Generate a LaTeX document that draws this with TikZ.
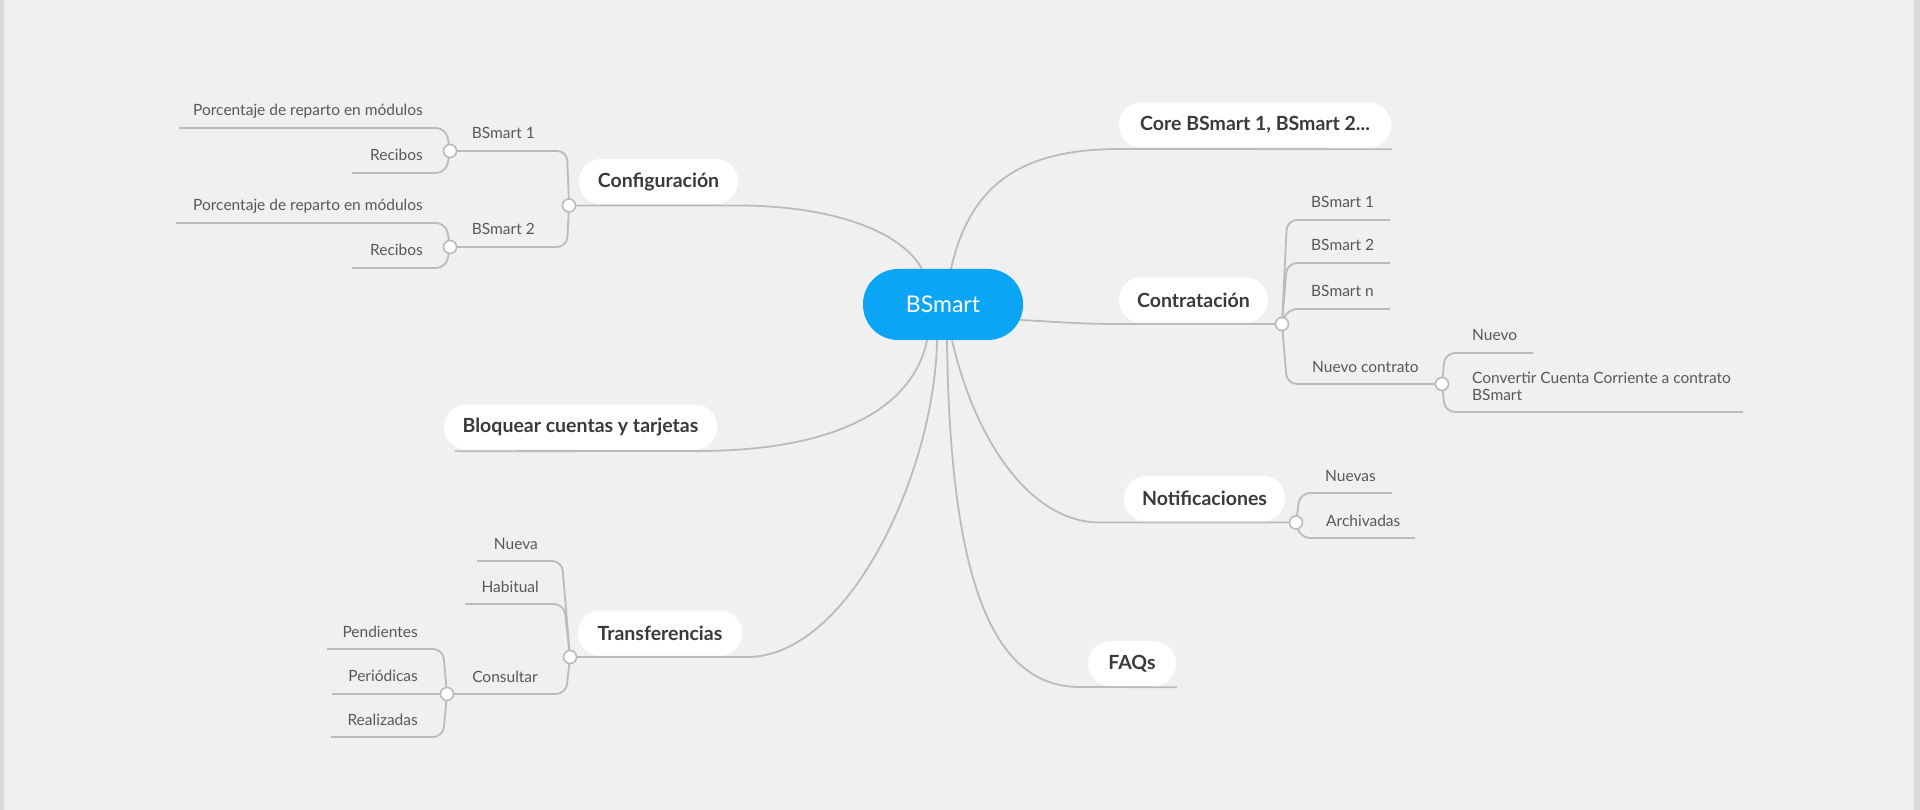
\documentclass[tikz,border=0pt]{standalone}
\usepackage{fontspec}
\setmainfont{Lato}
\usetikzlibrary{backgrounds}
\definecolor{bgc}{HTML}{F0F0F0}
\definecolor{edgec}{HTML}{DADADA}
\definecolor{linec}{HTML}{BBBBBB}
\definecolor{bluec}{HTML}{0AA6F5}
\definecolor{txtd}{HTML}{3A3A3A}
\definecolor{txtl}{HTML}{585858}
\begin{document}
\begin{tikzpicture}[x=1pt,y=-1pt,
  conn/.style={draw=linec, line width=1.8pt},
  branch/.style={draw=linec, line width=1.8pt, rounded corners=10pt},
  pill/.style={fill=white, rounded corners=22pt, minimum height=45pt, inner sep=0pt, font=\fontsize{19.5}{22}\selectfont\bfseries, text=txtd},
  rootnode/.style={fill=bluec, rounded corners=35pt, minimum width=160pt, minimum height=71pt, inner sep=0pt, font=\fontsize{23}{25}\selectfont, text=white},
  dot/.style={circle, draw=linec, line width=1.6pt, fill=white, minimum size=13pt, inner sep=0pt},
  lbl/.style={inner sep=0pt, font=\fontsize{15.5}{17}\selectfont, text=txtl},
  lblr/.style={lbl, anchor=base east},
  lbll/.style={lbl, anchor=base west, align=left}]
\useasboundingbox (0,0) rectangle (1920,810);

% ---------- nodes ----------
\node[rootnode] (root) at (943,304.5) {BSmart};
\node[pill, minimum width=272pt] (core) at (1255,125) {Core BSmart 1, BSmart 2...};
\node[pill, minimum width=149pt] (contr) at (1193.5,300) {Contratación};
\node[pill, minimum width=159pt] (config) at (658.5,181.5) {Configuración};
\node[pill, minimum width=273pt] (bloq) at (580.5,427) {Bloquear cuentas y tarjetas};
\node[pill, minimum width=164pt] (trans) at (660,633) {Transferencias};
\node[pill, minimum width=161pt] (notif) at (1204.5,498.5) {Notificaciones};
\node[pill, minimum width=88pt] (faqs) at (1132,663.5) {FAQs};

% branch circles
\node[dot] (cfgc) at (569,205.5) {};
\node[dot] (cb1) at (450,151) {};
\node[dot] (cb2) at (450,247) {};
\node[dot] (kc) at (1282,324) {};
\node[dot] (nc) at (1442,384) {};
\node[dot] (nfc) at (1296,522.5) {};
\node[dot] (tc) at (570,657) {};
\node[dot] (cs) at (447,694) {};

% leaf ends
\coordinate (p1) at (179,128);
\coordinate (r1) at (352,173);
\coordinate (p2) at (176,223);
\coordinate (r2) at (352,268);
\coordinate (kb1) at (1390,220);
\coordinate (kb2) at (1390,263);
\coordinate (kbn) at (1390,309);
\coordinate (nnu) at (1533,353);
\coordinate (ncv) at (1743,412);
\coordinate (nnv) at (1392,493);
\coordinate (nar) at (1415,538);
\coordinate (tnu) at (477,561);
\coordinate (tha) at (465,604);
\coordinate (tpe) at (327,649);
\coordinate (tpr) at (332,694);
\coordinate (tre) at (331,737);

% ---------- labels ----------
\node[lblr] at (535,139) {BSmart 1};
\node[lblr] at (535,235) {BSmart 2};
\node[lblr] at (423,116) {Porcentaje de reparto en módulos};
\node[lblr] at (423,161) {Recibos};
\node[lblr] at (423,211) {Porcentaje de reparto en módulos};
\node[lblr] at (423,256) {Recibos};
\node[lbll] at (1311,208) {BSmart 1};
\node[lbll] at (1311,251) {BSmart 2};
\node[lbll] at (1311,297) {BSmart n};
\node[lbll] at (1312,372) {Nuevo contrato};
\node[lbll] at (1472,341) {Nuevo};
\node[lbll] at (1472,400) {Convertir Cuenta Corriente a contrato\\BSmart};
\node[lbll] at (1325,481) {Nuevas};
\node[lbll] at (1326,526) {Archivadas};
\node[lblr] at (538,549) {Nueva};
\node[lblr] at (539,592) {Habitual};
\node[lblr] at (538,682) {Consultar};
\node[lblr] at (418,637) {Pendientes};
\node[lblr] at (418,681) {Periódicas};
\node[lblr] at (418,725) {Realizadas};

% ---------- connectors (behind) ----------
\begin{scope}[on background layer]
\fill[bgc] (0,0) rectangle (1920,810);
\fill[edgec] (0,0) rectangle (4,810);
\fill[edgec] (1914,0) rectangle (1920,810);

% main topics
\draw[conn] ([shift={(-21,0)}]root.north) .. controls (900,230) and (830,205.5) .. (737,205.5) -- (cfgc.center);
\draw[conn] ([shift={(8,0)}]root.north) .. controls (970,185) and (1020,149) .. (1120,149) -- ([shift={(1,1.5)}]core.south east);
\draw[conn] ([shift={(-3,15.5)}]root.east) .. controls (1060,322) and (1080,324) .. (1120,324) -- (kc.center);
\draw[conn] ([shift={(9,0)}]root.south) .. controls (975,440) and (1030,522.5) .. (1100,522.5) -- (nfc.center);
\draw[conn] ([shift={(4,0)}]root.south) .. controls (950,600) and (1000,687) .. (1080,687) -- ([shift={(1,1)}]faqs.south east);
\draw[conn] ([shift={(-16,0)}]root.south) .. controls (915,400) and (850,451) .. (697,451) -- ([shift={(11,1.5)}]bloq.south west);
\draw[conn] ([shift={(-6,0)}]root.south) .. controls (935,470) and (850,657) .. (747,657) -- (tc.center);

% Configuración
\draw[branch] (cfgc.center) -- (567,151) -- (cb1.center);
\draw[branch] (cfgc.center) -- (567,247) -- (cb2.center);
\draw[branch] (cb1.center) -- (446,128) -- (p1);
\draw[branch] (cb1.center) -- (446,173) -- (r1);
\draw[branch] (cb2.center) -- (446,223) -- (p2);
\draw[branch] (cb2.center) -- (446,268) -- (r2);

% Contratación
\draw[branch] (kc.center) -- (1287,220) -- (kb1);
\draw[branch] (kc.center) -- (1287,263) -- (kb2);
\draw[branch] (kc.center) -- (1287,309) -- (kbn);
\draw[branch] (kc.center) -- (1287,384) -- (nc.center);
\draw[branch] (nc.center) -- (1445,353) -- (nnu);
\draw[branch] (nc.center) -- (1445,412) -- (ncv);

% Notificaciones
\draw[branch] (nfc.center) -- (1300,493) -- (nnv);
\draw[branch] (nfc.center) -- (1300,538) -- (nar);

% Transferencias
\draw[branch] (tc.center) -- (562,561) -- (tnu);
\draw[branch] (tc.center) -- (564,604) -- (tha);
\draw[branch] (tc.center) -- (566,694) -- (cs.center);
\draw[branch] (cs.center) -- (443,649) -- (tpe);
\draw[branch] (cs.center) -- (tpr);
\draw[branch] (cs.center) -- (443,737) -- (tre);
\end{scope}
\end{tikzpicture}
\end{document}
